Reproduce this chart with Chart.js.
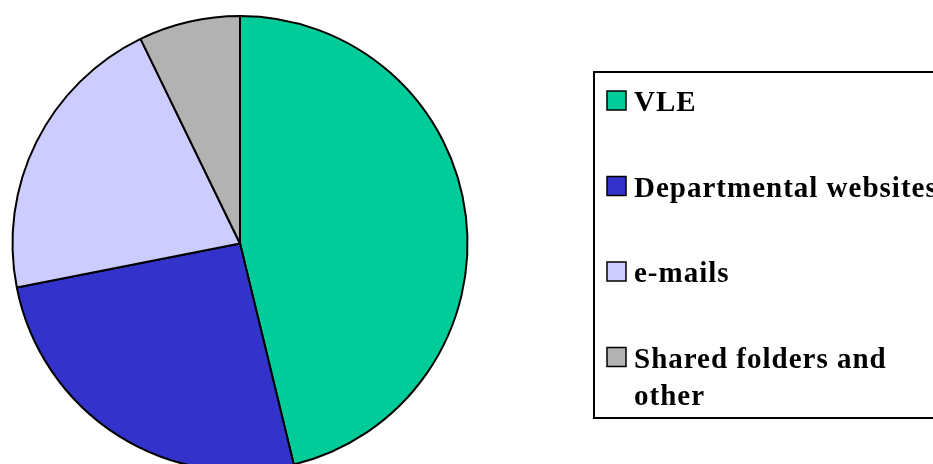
<!DOCTYPE html>
<html>
<head>
<meta charset="utf-8">
<script src="https://cdn.jsdelivr.net/npm/chart.js@4/dist/chart.umd.min.js"></script>
<style>
  html, body { margin: 0; padding: 0; background: #fff; overflow: hidden; }
  #wrap { width: 933px; height: 464px; overflow: hidden; }
</style>
</head>
<body>
<div id="wrap"><canvas id="pie" width="933" height="480"></canvas></div>
<script>
const labels = ['VLE', 'Departmental websites', 'e-mails', ['Shared folders and', 'other']];
const shares = [46.2, 25.7, 20.9, 7.2];
const colors = ['#00CC99', '#3333CC', '#CCCCFF', '#B2B2B2'];

// legend box drawn by hand, the built-in one can't do this layout
const boxLegend = {
  id: 'boxLegend',
  afterDraw(chart) {
    const ctx = chart.ctx;
    const ds = chart.data.datasets[0];
    ctx.save();
    ctx.strokeStyle = '#000';
    ctx.lineWidth = 2;
    ctx.strokeRect(594, 72, 400, 346);
    ctx.font = 'bold 29px "Liberation Serif", "Times New Roman", serif';
    ctx.letterSpacing = '1px';
    ctx.textBaseline = 'alphabetic';
    chart.data.labels.forEach((lab, i) => {
      const top = 91 + i * 85.5;
      ctx.fillStyle = ds.backgroundColor[i];
      ctx.fillRect(607, top, 19, 19);
      ctx.lineWidth = 1.5;
      ctx.strokeStyle = '#000';
      ctx.strokeRect(607, top, 19, 19);
      ctx.fillStyle = '#000';
      const lines = Array.isArray(lab) ? lab : [lab];
      lines.forEach((t, j) => ctx.fillText(t, 634, top + 20 + j * 37));
    });
    ctx.restore();
  }
};

new Chart(document.getElementById('pie'), {
  type: 'pie',
  data: {
    labels: labels,
    datasets: [{
      data: shares,
      backgroundColor: colors,
      borderColor: '#000',
      borderWidth: 2,
      hoverOffset: 0
    }]
  },
  options: {
    responsive: false,
    animation: false,
    layout: { padding: { left: 11, top: 15, right: 464, bottom: 8 } },
    plugins: {
      legend: { display: false },
      tooltip: { enabled: false }
    }
  },
  plugins: [boxLegend]
});
</script>
</body>
</html>
